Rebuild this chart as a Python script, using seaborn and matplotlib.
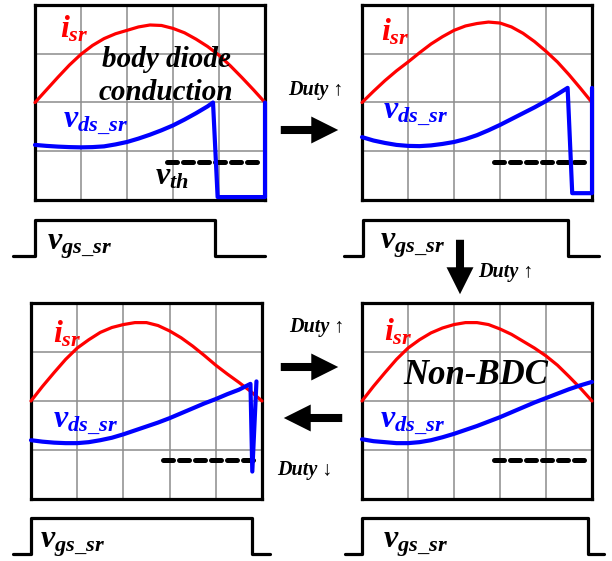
import matplotlib
matplotlib.use("Agg")
import matplotlib.pyplot as plt
import seaborn as sns
import pandas as pd
from matplotlib.patches import FancyArrowPatch

# --- values (grid units: 5 columns x 4 rows) ---
x_q = [0, 0.25, 0.5, 0.75, 1, 1.25, 1.5, 1.75, 2, 2.25, 2.5,
       2.75, 3, 3.25, 3.5, 3.75, 4, 4.25, 4.5, 4.75, 5]

isr_a = [2.0, 2.26, 2.52, 2.77, 2.99, 3.17, 3.31, 3.41, 3.48, 3.55, 3.59,
         3.58, 3.52, 3.43, 3.3, 3.15, 2.97, 2.75, 2.51, 2.26, 2.0]
isr_b = [2.0, 2.23, 2.45, 2.65, 2.83, 3.02, 3.2, 3.35, 3.48, 3.57, 3.62,
         3.65, 3.63, 3.55, 3.42, 3.25, 3.05, 2.83, 2.57, 2.29, 2.0]
isr_c = [2.0, 2.3, 2.58, 2.85, 3.08, 3.25, 3.4, 3.5, 3.56, 3.6, 3.6,
         3.54, 3.43, 3.29, 3.12, 2.93, 2.73, 2.55, 2.38, 2.2, 2.0]
isr_d = [2.0, 2.3, 2.58, 2.85, 3.08, 3.25, 3.39, 3.49, 3.56, 3.6, 3.6,
         3.56, 3.47, 3.36, 3.22, 3.08, 2.92, 2.73, 2.5, 2.26, 2.0]

vds_a_x = [0, 0.25, 0.5, 0.75, 1, 1.25, 1.5, 1.75, 2, 2.25, 2.5, 2.75, 3,
           3.25, 3.5, 3.75, 3.87, 3.97, 5, 5]
vds_a_y = [1.13, 1.11, 1.095, 1.085, 1.08, 1.085, 1.1, 1.14, 1.19, 1.26, 1.34,
           1.43, 1.53, 1.65, 1.78, 1.92, 2.0, 0.06, 0.06, 2.0]
vds_b_x = [0, 0.25, 0.5, 0.75, 1, 1.25, 1.5, 1.75, 2, 2.25, 2.5, 2.75, 3,
           3.25, 3.5, 3.75, 4, 4.25, 4.47, 4.57, 5, 5]
vds_b_y = [1.29, 1.22, 1.17, 1.13, 1.11, 1.105, 1.12, 1.15, 1.19, 1.25, 1.33,
           1.43, 1.54, 1.66, 1.78, 1.9, 2.03, 2.17, 2.3, 0.14, 0.14, 2.3]
vds_c_x = [0, 0.25, 0.5, 0.75, 1, 1.25, 1.5, 1.75, 2, 2.25, 2.5, 2.75, 3,
           3.25, 3.5, 3.75, 4, 4.25, 4.5, 4.75, 4.79, 4.88]
vds_c_y = [1.2, 1.17, 1.15, 1.14, 1.14, 1.16, 1.2, 1.25, 1.32, 1.4, 1.48,
           1.56, 1.65, 1.75, 1.85, 1.95, 2.04, 2.14, 2.23, 2.35, 0.56, 2.4]
vds_d_x = x_q
vds_d_y = [1.22, 1.18, 1.16, 1.14, 1.14, 1.16, 1.2, 1.26, 1.33, 1.41, 1.49,
           1.58, 1.67, 1.77, 1.87, 1.97, 2.06, 2.15, 2.24, 2.32, 2.39]

# threshold v_th (dashed)
vth_x = [[2.87, 4.85], [2.87, 4.87], [2.86, 4.8], [2.87, 4.87]]
vth_y = [0.78, 0.78, 0.8, 0.8]

# gate drive v_gs_sr (0 = low, 1 = high)
gate_level = [0, 0, 1, 1, 0, 0]
gate_a_x = [-0.48, 0, 0, 3.91, 3.91, 5.0]
gate_b_x = [-0.39, 0.02, 0.02, 4.48, 4.48, 5.15]
gate_c_x = [-0.39, 0, 0, 4.78, 4.78, 5.17]
gate_d_x = [-0.37, 0, 0, 4.91, 4.91, 5.26]

panels = [
    dict(isr=isr_a, vx=vds_a_x, vy=vds_a_y, gx=gate_a_x),
    dict(isr=isr_b, vx=vds_b_x, vy=vds_b_y, gx=gate_b_x),
    dict(isr=isr_c, vx=vds_c_x, vy=vds_c_y, gx=gate_c_x),
    dict(isr=isr_d, vx=vds_d_x, vy=vds_d_y, gx=gate_d_x),
]

# layout in pixels (left, top, right, bottom) and gate high/low rows
W, H = 612, 561
boxes = [(35, 5, 265, 200), (362, 5, 592, 200), (31, 303, 262, 499), (362, 303, 592, 499)]
gate_rows = [(220, 256), (220, 256), (518, 554), (518, 554)]

# label anchors (grid units)
isr_pos = [(0.55, 3.33), (0.41, 3.28), (0.48, 3.2), (0.48, 3.24)]
vds_pos = [(0.6, 1.48), (0.46, 1.68), (0.48, 1.47), (0.39, 1.47)]
vgs_pos = [(0.26, 0.17), (0.39, 0.22), (0.2, 0.19), (0.46, 0.19)]

sns.set_style("white")
plt.rcParams["font.family"] = ["Liberation Serif", "DejaVu Serif"]
plt.rcParams["text.color"] = "black"
plt.rcParams["mathtext.fontset"] = "custom"
plt.rcParams["mathtext.it"] = "Liberation Serif:italic:bold"
plt.rcParams["mathtext.rm"] = "Liberation Serif:bold"
plt.rcParams["mathtext.bf"] = "Liberation Serif:bold"

fig = plt.figure(figsize=(W / 100, H / 100), dpi=100)


def rect(x0, y0, x1, y1):
    return [x0 / W, 1 - y1 / H, (x1 - x0) / W, (y1 - y0) / H]


for i, p in enumerate(panels):
    x0, y0, x1, y1 = boxes[i]
    ax = fig.add_axes(rect(x0, y0, x1, y1))
    ax.set_xlim(0, 5)
    ax.set_ylim(0, 4)
    for k in range(1, 5):
        ax.axvline(k, color="#8c8c8c", lw=1.1, zorder=1)
    for k in range(1, 4):
        ax.axhline(k, color="#8c8c8c", lw=1.1, zorder=1)
    ax.set_xticks([])
    ax.set_yticks([])
    for s in ax.spines.values():
        s.set_linewidth(2.3)
        s.set_color("black")
        s.set_visible(True)

    df_i = pd.DataFrame({"t": x_q, "v": p["isr"]})
    sns.lineplot(data=df_i, x="t", y="v", ax=ax, color="#ff0000", lw=2.3,
                 estimator=None, sort=False, zorder=3)
    df_v = pd.DataFrame({"t": p["vx"], "v": p["vy"]})
    sns.lineplot(data=df_v, x="t", y="v", ax=ax, color="#0000ff", lw=3.0,
                 estimator=None, sort=False, zorder=4)
    for ln in ax.lines[-2:]:
        ln.set_clip_on(False)
        ln.set_solid_joinstyle("round")
    df_th = pd.DataFrame({"t": vth_x[i], "v": [vth_y[i]] * 2})
    sns.lineplot(data=df_th, x="t", y="v", ax=ax, color="black", lw=3.6,
                 estimator=None, sort=False, zorder=3)
    ax.lines[-1].set_linestyle((0, (2.0, 1.2)))
    ax.lines[-1].set_dash_capstyle("round")
    ax.set_xlabel("")
    ax.set_ylabel("")

    ax.text(*isr_pos[i], r"$i_{sr}$", color="#ff0000", fontsize=23,
            va="baseline", ha="left", zorder=5)
    ax.text(*vds_pos[i], r"$v_{ds\_sr}$", color="#0000ff", fontsize=23,
            va="baseline", ha="left", zorder=5)

    if i == 0:
        ax.text(2.85, 2.73, "body diode", fontsize=21, fontweight="bold",
                fontstyle="italic", ha="center", va="baseline", zorder=5)
        ax.text(2.85, 2.05, "conduction", fontsize=21, fontweight="bold",
                fontstyle="italic", ha="center", va="baseline", zorder=5)
        ax.text(2.6, 0.31, r"$v_{th}$", fontsize=23, ha="left", va="baseline", zorder=5)
    if i == 3:
        ax.text(2.48, 2.35, "Non-BDC", fontsize=25, fontweight="bold",
                fontstyle="italic", ha="center", va="baseline", zorder=5)

    # gate signal strip below the screen
    hi, lo = gate_rows[i]
    span = lo - hi
    colw = (x1 - x0) / 5
    gax = fig.add_axes(rect(x0 - colw, hi - 0.3 * span, x1 + colw, lo + 0.3 * span))
    gax.set_xlim(-1, 6)
    gax.set_ylim(-0.3, 1.3)
    gax.axis("off")
    df_g = pd.DataFrame({"t": p["gx"], "g": gate_level})
    sns.lineplot(data=df_g, x="t", y="g", ax=gax, color="black", lw=2.3,
                 estimator=None, sort=False)
    gax.text(*vgs_pos[i], r"$v_{gs\_sr}$", fontsize=23, ha="left", va="baseline")

# --- arrows and "Duty" notes on a full-figure overlay ---
ov = fig.add_axes([0, 0, 1, 1])
ov.set_xlim(0, W)
ov.set_ylim(H, 0)
ov.axis("off")

arrows = [((278, 130), (341, 130)), ((460, 237), (460, 297)),
          ((278, 367), (341, 367)), ((345, 418), (281, 418))]
for a, b in arrows:
    ov.add_patch(FancyArrowPatch(a, b, arrowstyle="simple,head_length=0.97,head_width=0.97,tail_width=0.29",
                                 mutation_scale=20, color="black", lw=0))

duty_notes = [(316, 95, "Duty \u2191", "center"), (478, 277, "Duty \u2191", "left"),
              (317, 332, "Duty \u2191", "center"), (305, 475, "Duty \u2193", "center")]
for x, y, s, ha in duty_notes:
    ov.text(x, y, s, fontsize=14.5, fontweight="bold", fontstyle="italic",
            ha=ha, va="baseline")

fig.savefig("out.png", dpi=100)
